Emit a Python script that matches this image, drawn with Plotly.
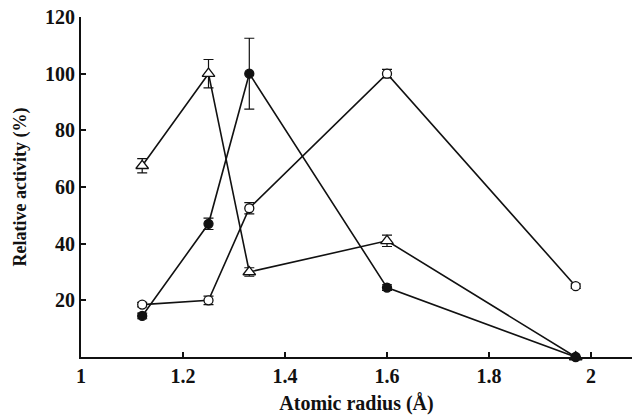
import plotly.graph_objects as go

radius = [1.12, 1.25, 1.33, 1.60, 1.97]

tri_vals = [67.5, 100, 30, 41, 0]
tri_err = [2.5, 5, 1.5, 2, 0]

filled_vals = [14.5, 47, 100, 24.5, 0]
filled_err = [1, 2, 12.5, 1, 0]

open_vals = [18.5, 20, 52.5, 100, 25]
open_err = [0.8, 1.5, 2, 1.5, 0.8]

x_ticks = [1, 1.2, 1.4, 1.6, 1.8, 2]
x_tick_text = ["1", "1.2", "1.4", "1.6", "1.8", "2"]
y_ticks = [20, 40, 60, 80, 100, 120]
y_tick_text = ["20", "40", "60", "80", "100", "120"]

FONT = "Liberation Serif"
INK = "#111111"
fig = go.Figure()

def add_series(vals, errs, symbol, fill, size):
    fig.add_trace(go.Scatter(
        x=radius, y=vals, mode="lines+markers",
        line=dict(color=INK, width=1.6),
        marker=dict(symbol=symbol, size=size, color=fill,
                    line=dict(color=INK, width=1.3)),
        error_y=dict(type="data", array=errs, visible=True, color=INK, thickness=1.2, width=5),
        showlegend=False, cliponaxis=False,
    ))

add_series(tri_vals, tri_err, "triangle-up", "white", 11)
add_series(filled_vals, filled_err, "circle", INK, 9)
add_series(open_vals, open_err, "circle", "white", 9)

tick_font = dict(family=FONT, size=20, color=INK, weight="bold")

fig.update_layout(
    width=632, height=418,
    margin=dict(l=81, r=0, t=17, b=61),
    paper_bgcolor="white", plot_bgcolor="white",
    font=dict(family=FONT, size=17, color=INK),
    xaxis=dict(range=[1, 2.0804], tickvals=x_ticks, ticktext=x_tick_text, automargin=False,
               showline=True, linecolor=INK, linewidth=2, ticks="inside",
               ticklen=5, tickwidth=1.5, tickcolor=INK, showgrid=False, zeroline=False,
               tickfont=tick_font,
               title=dict(text="Atomic radius (Å)", font=dict(family=FONT, size=20, color=INK, weight="bold"), standoff=10)),
    yaxis=dict(range=[0, 120], tickvals=y_ticks, ticktext=y_tick_text, automargin=False,
               showline=True, linecolor=INK, linewidth=2, ticks="inside",
               ticklen=5, tickwidth=1.5, tickcolor=INK, showgrid=False, zeroline=False,
               tickfont=tick_font,
               title=dict(text="Relative activity (%)", font=dict(family=FONT, size=18, color=INK, weight="bold"), standoff=14)),
)

fig.write_html("out.html", config={"displayModeBar": False},
               post_script="document.body.style.margin='0';document.body.style.overflow='hidden';")
